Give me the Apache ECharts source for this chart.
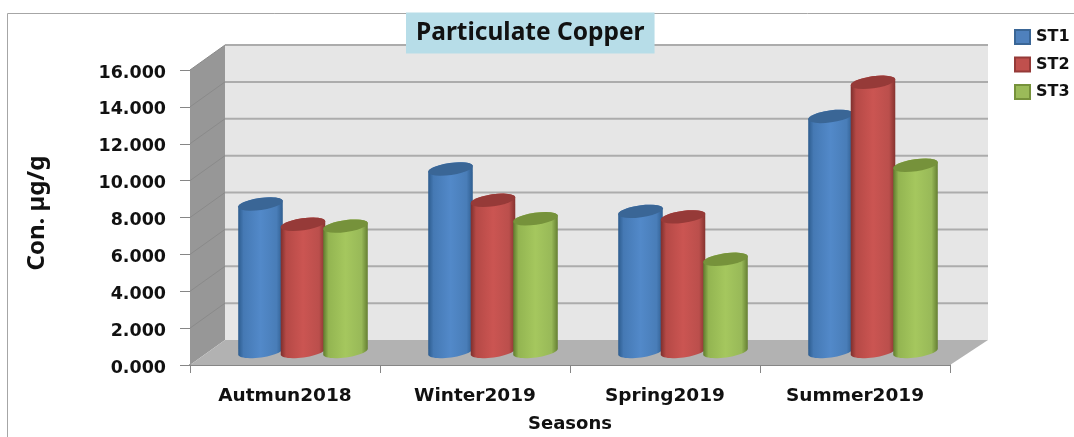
<!DOCTYPE html>
<html>
<head>
<meta charset="utf-8">
<title>Particulate Copper</title>
<script src="https://cdn.jsdelivr.net/npm/echarts@6/dist/echarts.min.js"></script>
<style>
  html, body { margin: 0; padding: 0; background: #fff; }
  #main { width: 1074px; height: 437px; }
</style>
</head>
<body>
<div id="main"></div>
<script>
const categories = ['Autmun2018', 'Winter2019', 'Spring2019', 'Summer2019'];
const st1 = [8.0, 9.9, 7.6, 12.75];
const st2 = [6.9, 8.2, 7.3, 14.6];
const st3 = [6.8, 7.2, 5.0, 10.1];
const yTicks = [0, 2, 4, 6, 8, 10, 12, 14, 16];

const FONT = '"DejaVu Sans", Verdana, sans-serif';
const TITLE_FONT = '"Noto Sans", "Open Sans", sans-serif';
const TEXT = '#111';

// fake 3d depth of the box, in px
const DEPTH_LEFT = 35;
const DEPTH_RIGHT = 38;
const DEPTH_Y = 25;
// cylinders stand in the middle of the floor
const BAR_DX = 18;
const BAR_DY = 13.5;
const BAR_STEP = 42.5;
const BAR_RX = 22.5;
const BAR_RY = 6;
const TILT = -8 * Math.PI / 180;

const palette = [
  { legend: '#4f81bd', border: '#3a6696', top: '#3a6696', stops: ['#2d5c8e', '#4579b4', '#5289c9', '#497db8', '#2f5e90'] },
  { legend: '#c0504d', border: '#953a38', top: '#963a38', stops: ['#7d2f2d', '#b54946', '#cb5552', '#bb4f4c', '#86332f'] },
  { legend: '#9bbb59', border: '#76923b', top: '#76923b', stops: ['#5f7a2e', '#93b551', '#a5c75e', '#98b958', '#657f32'] }
];
const STOP_AT = [0, 0.12, 0.5, 0.86, 1];

function arc(cx, cy, from, to) {
  const pts = [];
  for (let i = 0; i <= 24; i++) {
    const a = from + (to - from) * i / 24;
    const x = BAR_RX * Math.cos(a), y = BAR_RY * Math.sin(a);
    pts.push([cx + x * Math.cos(TILT) - y * Math.sin(TILT), cy + x * Math.sin(TILT) + y * Math.cos(TILT)]);
  }
  return pts;
}

function cylinder(idx) {
  return function (params, api) {
    const p = api.coord([api.value(0), api.value(1)]);
    const base = api.coord([api.value(0), 0]);
    const cx = p[0] + BAR_DX + (idx - 1) * BAR_STEP;
    const topY = p[1] - BAR_DY;
    const botY = base[1] - BAR_DY;
    const c = palette[idx];
    const body = arc(cx, botY, 0, Math.PI).concat(arc(cx, topY, Math.PI, 2 * Math.PI));
    return {
      type: 'group',
      children: [
        {
          type: 'polygon',
          shape: { points: body },
          style: {
            fill: {
              type: 'linear', x: 0, y: 0, x2: 1, y2: 0,
              colorStops: c.stops.map((color, i) => ({ offset: STOP_AT[i], color }))
            }
          }
        },
        { type: 'polygon', shape: { points: arc(cx, topY, 0, 2 * Math.PI) }, style: { fill: c.top } }
      ]
    };
  };
}

// walls, floor and the gridlines on them, taken from the axis scales
function renderBox(params, api) {
  const band = api.size([1, 0])[0];
  const left = api.coord([0, 0])[0] - band / 2;
  const right = left + band * categories.length;
  const y0 = api.coord([0, 0])[1];
  const yTop = api.coord([0, yTicks[yTicks.length - 1]])[1];
  const backL = left + DEPTH_LEFT, backR = right + DEPTH_RIGHT;
  const children = [
    { type: 'polygon', shape: { points: [[backL, yTop - DEPTH_Y], [backR, yTop - DEPTH_Y], [backR, y0 - DEPTH_Y], [backL, y0 - DEPTH_Y]] }, style: { fill: '#e6e6e6' } },
    { type: 'polygon', shape: { points: [[left, yTop], [backL, yTop - DEPTH_Y], [backL, y0 - DEPTH_Y], [left, y0]] }, style: { fill: '#979797' } },
    { type: 'polygon', shape: { points: [[left, y0], [right, y0], [backR, y0 - DEPTH_Y], [backL, y0 - DEPTH_Y]] }, style: { fill: '#b2b2b2' } }
  ];
  yTicks.forEach(function (t) {
    const y = api.coord([0, t])[1];
    if (t > 0) {
      children.push({ type: 'line', shape: { x1: backL, y1: y - DEPTH_Y, x2: backR, y2: y - DEPTH_Y }, style: { stroke: '#acacac', lineWidth: 2 } });
      children.push({ type: 'line', shape: { x1: left, y1: y, x2: backL, y2: y - DEPTH_Y }, style: { stroke: '#8a8a8a', lineWidth: 1 } });
    }
  });
  return { type: 'group', children: children };
}

function barSeries(name, values, idx) {
  return {
    name: name,
    type: 'custom',
    renderItem: cylinder(idx),
    encode: { x: 0, y: 1 },
    data: values.map((v, i) => [i, v]),
    clip: false,
    itemStyle: { color: palette[idx].legend, borderColor: palette[idx].border, borderWidth: 1 },
    z: 3 + idx
  };
}

const chart = echarts.init(document.getElementById('main'));
chart.setOption({
  animation: false,
  textStyle: { fontFamily: FONT },
  title: {
    text: 'Particulate Copper',
    left: 406,
    top: 13,
    padding: [8, 10, 8, 10],
    backgroundColor: '#b7dde8',
    textStyle: { fontFamily: TITLE_FONT, fontSize: 24.5, lineHeight: 24, fontWeight: 'bold', color: TEXT }
  },
  legend: {
    data: ['ST1', 'ST2', 'ST3'],
    orient: 'vertical',
    left: 1014,
    top: 29,
    padding: 0,
    icon: 'rect',
    itemWidth: 15,
    itemHeight: 14,
    itemGap: 11.5,
    textStyle: { fontFamily: FONT, fontSize: 16, fontWeight: 'bold', color: TEXT, padding: [0, 0, 0, 1] }
  },
  grid: { left: 190, top: 70, width: 760, height: 295, outerBoundsMode: 'none' },
  xAxis: {
    type: 'category',
    data: categories,
    name: 'Seasons',
    nameLocation: 'middle',
    nameGap: 50,
    nameTextStyle: { fontFamily: FONT, fontSize: 18, fontWeight: 'bold', color: TEXT },
    axisLine: { lineStyle: { color: '#868686', width: 2 } },
    axisTick: { show: true, alignWithLabel: false, length: 8, lineStyle: { color: '#868686', width: 1 } },
    axisLabel: { margin: 22, fontFamily: FONT, fontSize: 18.5, fontWeight: 'bold', color: TEXT }
  },
  yAxis: {
    type: 'value',
    min: 0,
    max: 16,
    interval: 2,
    name: 'Con. µg/g',
    nameLocation: 'middle',
    nameGap: 141,
    nameTextStyle: { fontFamily: TITLE_FONT, fontSize: 24, fontWeight: 'bold', color: TEXT, padding: [0, 0, 0, 9] },
    splitLine: { show: false },
    axisLine: { show: true, lineStyle: { color: '#868686', width: 1 } },
    axisTick: { show: true, length: 10, lineStyle: { color: '#868686', width: 1 } },
    axisLabel: {
      margin: 24, fontFamily: FONT, fontSize: 17.5, fontWeight: 'bold', color: TEXT,
      verticalAlign: 'top',
      lineHeight: 6,
      formatter: v => v.toFixed(3)
    }
  },
  series: [
    { type: 'custom', silent: true, renderItem: renderBox, data: [[0, 0]], clip: false, z: 1, encode: { x: 0, y: 1 } },
    barSeries('ST1', st1, 0),
    barSeries('ST2', st2, 1),
    barSeries('ST3', st3, 2)
  ],
  graphic: [{
    type: 'polyline',
    z: 0,
    silent: true,
    shape: { points: [[7.5, 437], [7.5, 13.5], [1074, 13.5]] },
    style: { fill: null, stroke: '#a6a6a6', lineWidth: 1 }
  }]
});
</script>
</body>
</html>
